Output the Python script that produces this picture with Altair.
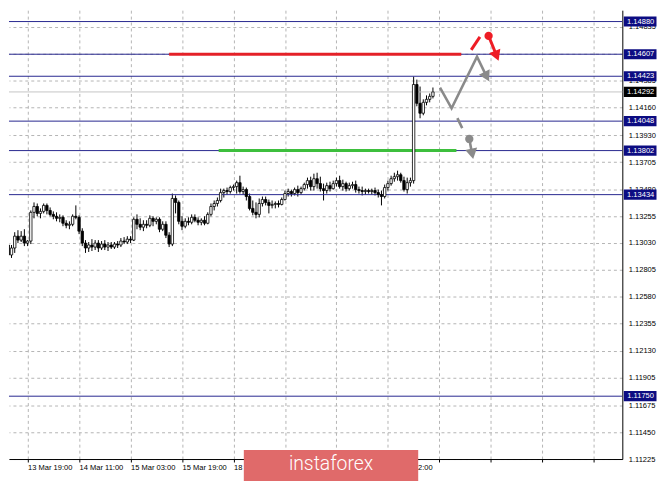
import json
import altair as alt
import pandas as pd

# ---------------- data ----------------
opens = [
    1.13013, 1.12930, 1.12988, 1.13087, 1.13054, 1.13087, 1.13029, 1.13046, 1.13286, 1.13335,
    1.13277, 1.13294, 1.13344, 1.13302, 1.13269, 1.13253, 1.13236, 1.13244, 1.13195, 1.13178,
    1.13186, 1.13253, 1.13244, 1.13129, 1.13029, 1.12988, 1.13013, 1.12996, 1.13029, 1.12988,
    1.13021, 1.12996, 1.13013, 1.12996, 1.13021, 1.13013, 1.13046, 1.13038, 1.13062, 1.13054,
    1.13228, 1.13186, 1.13162, 1.13186, 1.13178, 1.13236, 1.13211, 1.13228, 1.13145, 1.13186,
    1.13095, 1.13021, 1.13402, 1.13369, 1.13211, 1.13170, 1.13211, 1.13203, 1.13244, 1.13220,
    1.13203, 1.13220, 1.13195, 1.13269, 1.13335, 1.13360, 1.13385, 1.13451, 1.13468, 1.13460,
    1.13493, 1.13501, 1.13534, 1.13460, 1.13476, 1.13418, 1.13319, 1.13286, 1.13269, 1.13360,
    1.13393, 1.13369, 1.13344, 1.13352, 1.13360, 1.13352, 1.13393, 1.13443, 1.13460, 1.13443,
    1.13476, 1.13451, 1.13484, 1.13518, 1.13551, 1.13501, 1.13567, 1.13526, 1.13484, 1.13468,
    1.13509, 1.13484, 1.13526, 1.13551, 1.13501, 1.13526, 1.13484, 1.13509, 1.13518, 1.13476,
    1.13468, 1.13460, 1.13468, 1.13460, 1.13468, 1.13451, 1.13435, 1.13418, 1.13493, 1.13526,
    1.13567, 1.13584, 1.13600, 1.13551, 1.13476, 1.13534, 1.13551, 1.14354, 1.14197, 1.14114,
    1.14205, 1.14230, 1.14255,
]
highs = [
    1.13029, 1.13013, 1.13120, 1.13137, 1.13129, 1.13145, 1.13054, 1.13302, 1.13369, 1.13360,
    1.13319, 1.13360, 1.13360, 1.13327, 1.13294, 1.13286, 1.13269, 1.13261, 1.13220, 1.13211,
    1.13269, 1.13344, 1.13261, 1.13153, 1.13054, 1.13038, 1.13062, 1.13054, 1.13054, 1.13046,
    1.13054, 1.13038, 1.13038, 1.13038, 1.13046, 1.13071, 1.13079, 1.13087, 1.13087, 1.13244,
    1.13269, 1.13236, 1.13220, 1.13220, 1.13261, 1.13253, 1.13244, 1.13244, 1.13211, 1.13211,
    1.13120, 1.13443, 1.13427, 1.13385, 1.13253, 1.13236, 1.13244, 1.13269, 1.13269, 1.13244,
    1.13236, 1.13253, 1.13286, 1.13360, 1.13385, 1.13410, 1.13484, 1.13484, 1.13493, 1.13509,
    1.13518, 1.13551, 1.13592, 1.13501, 1.13493, 1.13443, 1.13385, 1.13369, 1.13402, 1.13418,
    1.13418, 1.13393, 1.13385, 1.13377, 1.13385, 1.13410, 1.13468, 1.13484, 1.13476, 1.13493,
    1.13509, 1.13501, 1.13534, 1.13576, 1.13584, 1.13609, 1.13617, 1.13584, 1.13526, 1.13534,
    1.13542, 1.13551, 1.13576, 1.13592, 1.13559, 1.13542, 1.13534, 1.13542, 1.13551, 1.13501,
    1.13501, 1.13484, 1.13484, 1.13484, 1.13493, 1.13476, 1.13468, 1.13518, 1.13551, 1.13592,
    1.13617, 1.13634, 1.13617, 1.13584, 1.13576, 1.13576, 1.14420, 1.14395, 1.14337, 1.14230,
    1.14263, 1.14279, 1.14329,
]
lows = [
    1.12889, 1.12905, 1.12947, 1.13029, 1.13038, 1.13004, 1.13004, 1.13021, 1.13236, 1.13253,
    1.13236, 1.13277, 1.13269, 1.13253, 1.13228, 1.13211, 1.13203, 1.13170, 1.13153, 1.13145,
    1.13170, 1.13228, 1.13104, 1.13004, 1.12947, 1.12955, 1.12963, 1.12971, 1.12955, 1.12971,
    1.12971, 1.12963, 1.12980, 1.12980, 1.12988, 1.12996, 1.13021, 1.13021, 1.13029, 1.13046,
    1.13145, 1.13137, 1.13129, 1.13153, 1.13162, 1.13170, 1.13186, 1.13120, 1.13129, 1.13071,
    1.12996, 1.13004, 1.13277, 1.13186, 1.13137, 1.13153, 1.13178, 1.13186, 1.13203, 1.13178,
    1.13178, 1.13178, 1.13186, 1.13253, 1.13302, 1.13335, 1.13369, 1.13410, 1.13435, 1.13443,
    1.13468, 1.13443, 1.13443, 1.13435, 1.13385, 1.13302, 1.13261, 1.13236, 1.13244, 1.13335,
    1.13344, 1.13277, 1.13319, 1.13319, 1.13327, 1.13344, 1.13385, 1.13418, 1.13418, 1.13427,
    1.13418, 1.13435, 1.13468, 1.13484, 1.13468, 1.13468, 1.13484, 1.13460, 1.13385, 1.13443,
    1.13460, 1.13476, 1.13501, 1.13484, 1.13468, 1.13460, 1.13468, 1.13484, 1.13451, 1.13443,
    1.13427, 1.13435, 1.13443, 1.13435, 1.13427, 1.13410, 1.13344, 1.13402, 1.13468, 1.13509,
    1.13542, 1.13551, 1.13534, 1.13460, 1.13443, 1.13501, 1.13526, 1.14172, 1.14072, 1.14097,
    1.14180, 1.14205, 1.14238,
]
closes = [
    1.12930, 1.12988, 1.13087, 1.13054, 1.13087, 1.13029, 1.13046, 1.13286, 1.13335, 1.13277,
    1.13294, 1.13344, 1.13302, 1.13269, 1.13253, 1.13236, 1.13244, 1.13195, 1.13178, 1.13186,
    1.13253, 1.13244, 1.13129, 1.13029, 1.12988, 1.13013, 1.12996, 1.13029, 1.12988, 1.13021,
    1.12996, 1.13013, 1.12996, 1.13021, 1.13013, 1.13046, 1.13038, 1.13062, 1.13054, 1.13228,
    1.13186, 1.13162, 1.13186, 1.13178, 1.13236, 1.13211, 1.13228, 1.13145, 1.13186, 1.13095,
    1.13021, 1.13402, 1.13369, 1.13211, 1.13170, 1.13211, 1.13203, 1.13244, 1.13220, 1.13203,
    1.13220, 1.13195, 1.13269, 1.13335, 1.13360, 1.13385, 1.13451, 1.13468, 1.13460, 1.13493,
    1.13501, 1.13534, 1.13460, 1.13476, 1.13418, 1.13319, 1.13286, 1.13269, 1.13360, 1.13393,
    1.13369, 1.13344, 1.13352, 1.13360, 1.13352, 1.13393, 1.13443, 1.13460, 1.13443, 1.13476,
    1.13451, 1.13484, 1.13518, 1.13551, 1.13501, 1.13567, 1.13526, 1.13484, 1.13468, 1.13509,
    1.13484, 1.13526, 1.13551, 1.13501, 1.13526, 1.13484, 1.13509, 1.13518, 1.13476, 1.13468,
    1.13460, 1.13468, 1.13460, 1.13468, 1.13451, 1.13435, 1.13418, 1.13493, 1.13526, 1.13567,
    1.13584, 1.13600, 1.13551, 1.13476, 1.13534, 1.13551, 1.14354, 1.14197, 1.14114, 1.14205,
    1.14230, 1.14255, 1.14292,
]

time_labels = ["13 Mar 19:00", "14 Mar 11:00", "15 Mar 03:00", "15 Mar 19:00",
               "18 Mar 12:00", "19 Mar 04:00", "19 Mar 20:00", "20 Mar 12:00"]
time_tick_idx = [6, 22, 38, 54, 70, 86, 102, 118, 134, 150, 166, 182]

price_ticks = [1.11225, 1.11450, 1.11675, 1.11905, 1.12130, 1.12355, 1.12580, 1.12805,
               1.13030, 1.13255, 1.13480, 1.13705, 1.13930, 1.14160, 1.14385, 1.14610, 1.14835]
level_prices = [1.14880, 1.14607, 1.14423, 1.14048, 1.13802, 1.13434, 1.11750]
current_price = 1.14292

# target lines (start bar, end bar, price)
red_line = [50.0, 140.8, 1.14607]
green_line = [65.4, 139.3, 1.13802]

# scenario sketch: segments (bar, price)
seg_names = ["g1", "g1", "g1", "g1", "g2", "g2", "g3", "g3", "r1", "r1", "r2", "r2"]
seg_idx = [134.2, 137.8, 145.7, 148.7, 139.6, 141.1, 143.3, 144.2, 143.9, 146.6, 149.3, 151.8]
seg_price = [1.14329, 1.14155, 1.14586, 1.14420, 1.14073, 1.13990, 1.13899, 1.13774,
             1.14644, 1.14752, 1.14760, 1.14594]
seg_color = ["#8a8a8a"] * 8 + ["#ee1c25"] * 4
seg_width = [2.6] * 8 + [3.0] * 4

head_idx = [148.7, 144.2, 151.8]
head_price = [1.14420, 1.13774, 1.14594]
head_angle = [153, 169, 158]
head_color = ["#8a8a8a", "#8a8a8a", "#ee1c25"]

dot_idx = [143.3, 149.3]
dot_price = [1.13899, 1.14760]
dot_color = ["#8a8a8a", "#ee1c25"]

# ---------------- chart ----------------
W, H = 619, 453
FONT = "Liberation Sans"
xs = alt.Scale(domain=[1.758, 189.33], nice=False, zero=False)
ys = alt.Scale(domain=[1.11225, 1.14975], nice=False, zero=False)

candles = pd.DataFrame(dict(idx=list(range(len(opens))), open=opens, high=highs,
                            low=lows, close=closes))

label_expr = json.dumps(time_labels) + "[round((datum.value - 6) / 16)] || ''"

x_axis = alt.Axis(values=time_tick_idx, labelExpr=label_expr, labelAlign="left",
                  labelBaseline="top", labelPadding=2, labelFontSize=7.6, labelFont=FONT,
                  labelColor="black", tickColor="black", tickSize=3, domainColor="black",
                  domainWidth=1, grid=True, gridColor="#b4b4b4", gridDash=[3, 3],
                  gridWidth=1, labelOverlap=False, labelFlush=False, labelBound=False,
                  title=None)
y_axis = alt.Axis(orient="right", values=price_ticks,
                  labelExpr="format(datum.value, '.5f')", ticks=False, labelPadding=6,
                  labelFontSize=7.6, labelFont=FONT, labelColor="black",
                  domainColor="black", domainWidth=1, grid=True, gridColor="#b4b4b4",
                  gridDash=[3, 3], gridWidth=1, labelOverlap=False, labelFlush=False,
                  labelBound=False, title=None)


def X(field):
    return alt.X(field, scale=xs, axis=x_axis)


def Y(field):
    return alt.Y(field, scale=ys, axis=y_axis)


wicks = alt.Chart(candles).mark_rule(color="black", strokeWidth=1, clip=True).encode(
    x=X("idx:Q"), y=Y("low:Q"), y2="high:Q")
bodies = alt.Chart(candles).mark_bar(size=2.4, stroke="black", strokeWidth=0.8,
                                     clip=True).encode(
    x=X("idx:Q"), y=Y("open:Q"), y2="close:Q",
    fill=alt.condition("datum.close >= datum.open", alt.value("white"), alt.value("black")),
)

levels_df = pd.DataFrame({"p": level_prices})
levels = alt.Chart(levels_df).mark_rule(color="#26268f", strokeWidth=1).encode(y=Y("p:Q"))
cur_df = pd.DataFrame({"p": [current_price]})
cur_line = alt.Chart(cur_df).mark_rule(color="#c4c4c4", strokeWidth=1).encode(y=Y("p:Q"))

targets_df = pd.DataFrame({"x": [red_line[0], green_line[0]], "x2": [red_line[1], green_line[1]],
                           "p": [red_line[2], green_line[2]], "c": ["#e42128", "#3dbf3d"]})
targets = alt.Chart(targets_df).mark_rule(strokeWidth=3).encode(
    x=X("x:Q"), x2="x2:Q", y=Y("p:Q"), color=alt.Color("c:N", scale=None))

seg_df = pd.DataFrame({"seg": seg_names, "idx": seg_idx, "p": seg_price, "c": seg_color,
                       "w": seg_width, "o": list(range(len(seg_idx)))})
segs = alt.Chart(seg_df).mark_line(strokeCap="butt", strokeJoin="miter").encode(
    x=X("idx:Q"), y=Y("p:Q"),
    detail="seg:N", order="o:Q",
    color=alt.Color("c:N", scale=None),
    strokeWidth=alt.StrokeWidth("w:Q", scale=None))

heads_df = pd.DataFrame({"idx": head_idx, "p": head_price, "a": head_angle, "c": head_color})
heads = alt.Chart(heads_df).mark_point(shape="triangle-up", filled=True, size=150,
                                       opacity=1).encode(
    x=X("idx:Q"), y=Y("p:Q"),
    angle=alt.Angle("a:Q", scale=None),
    color=alt.Color("c:N", scale=None))

dots_df = pd.DataFrame({"idx": dot_idx, "p": dot_price, "c": dot_color})
dots = alt.Chart(dots_df).mark_circle(size=70, opacity=1).encode(
    x=X("idx:Q"), y=Y("p:Q"), color=alt.Color("c:N", scale=None))

tags_df = pd.DataFrame({"p": level_prices + [current_price],
                        "c": ["#0c0c82"] * len(level_prices) + ["#000000"]})
box_path = "M-1,-0.31L1,-0.31L1,0.31L-1,0.31Z"
tag_boxes = alt.Chart(tags_df).mark_point(shape=box_path, filled=True, size=1089,
                                          opacity=1).encode(
    x=alt.value(W + 18), y=Y("p:Q"), color=alt.Color("c:N", scale=None))
tag_text = alt.Chart(tags_df).mark_text(color="white", fontSize=7.6, font=FONT,
                                        align="center", baseline="middle").encode(
    x=alt.value(W + 18.5), y=Y("p:Q"), text=alt.Text("p:Q", format=".5f"))

wm_df = pd.DataFrame({"t": ["instaforex"]})
wm_box = alt.Chart(wm_df).mark_rect(color="#e06a6a", opacity=1).encode(
    x=alt.value(237), x2=alt.value(413), y=alt.value(444), y2=alt.value(476))
wm_text = alt.Chart(wm_df).mark_text(color="white", fontSize=19.5, font="Roboto",
                                     fontWeight=300, align="center",
                                     baseline="alphabetic").encode(
    x=alt.value(325), y=alt.value(464), text="t:N")

chart = alt.layer(
    wicks, levels, cur_line, targets, bodies, segs, heads, dots,
    tag_boxes, tag_text, wm_box, wm_text,
).properties(width=W, height=H, padding=0, background="white").configure_view(stroke=None)

chart.save("out.html", embed_options={"renderer": "svg", "actions": False})
